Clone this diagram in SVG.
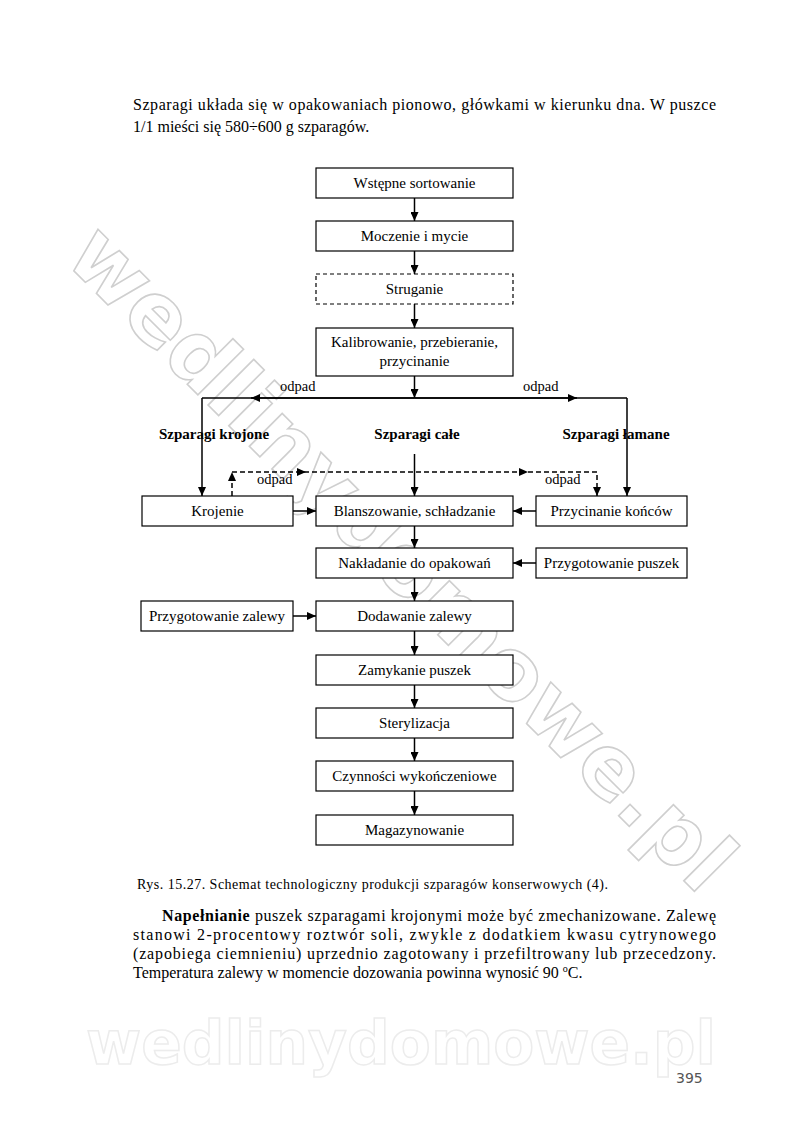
<svg xmlns="http://www.w3.org/2000/svg" width="800" height="1132" viewBox="0 0 800 1132">
<style>
.box{fill:#fff;stroke:#000;stroke-width:1.2}
.dbox{fill:#fff;stroke:#000;stroke-width:1.2;stroke-dasharray:4,3}
.t{font-family:"Liberation Serif","Times New Roman",serif;font-size:15px;fill:#000;text-anchor:middle}
.b{font-family:"Liberation Serif","Times New Roman",serif;font-size:15px;font-weight:bold;fill:#000;text-anchor:middle}
.o{font-family:"Liberation Serif","Times New Roman",serif;font-size:14.5px;fill:#000}
.p{font-family:"Liberation Serif","Times New Roman",serif;font-size:16px;fill:#000}
.cap{font-family:"Liberation Serif","Times New Roman",serif;font-size:14px;fill:#000}
.ln{fill:none;stroke:#000;stroke-width:1.5}
.dl{fill:none;stroke:#000;stroke-width:1.5;stroke-dasharray:5,3}
.wm{font-family:"DejaVu Sans",Verdana,sans-serif;font-weight:bold}
</style>
<defs>
<marker id="ah" markerWidth="9" markerHeight="8" refX="9" refY="4" orient="auto" markerUnits="userSpaceOnUse">
<path d="M0,0 L9,4 L0,8 z" fill="#000"/>
</marker>
</defs>
<rect width="800" height="1132" fill="#fff"/>
<g id="watermark">
<text class="wm" font-size="85" transform="translate(63,260) rotate(45)" textLength="900" lengthAdjust="spacingAndGlyphs" fill="none" stroke="#cfcfcf" stroke-width="1.6">wedlinydomowe.pl</text>
<text class="wm" font-size="60" x="86" y="1064" textLength="630" lengthAdjust="spacingAndGlyphs" fill="#fff" stroke="#ececec" stroke-width="1.5">wedlinydomowe.pl</text>
</g>
<g id="page-text">
<text class="p" x="133" y="110" textLength="583" lengthAdjust="spacing">Szparagi układa się w opakowaniach pionowo, główkami w kierunku dna. W puszce</text>
<text class="p" x="133" y="132">1/1 mieści się 580÷600 g szparagów.</text>
<text class="cap" x="137" y="889" textLength="471" lengthAdjust="spacing">Rys. 15.27. Schemat technologiczny produkcji szparagów konserwowych (4).</text>
<text class="p" x="162" y="921" textLength="554" lengthAdjust="spacing"><tspan font-weight="bold">Napełnianie</tspan> puszek szparagami krojonymi może być zmechanizowane. Zalewę</text>
<text class="p" x="133" y="940" textLength="583" lengthAdjust="spacing">stanowi 2-procentowy roztwór soli, zwykle z dodatkiem kwasu cytrynowego</text>
<text class="p" x="133" y="959" textLength="583" lengthAdjust="spacing">(zapobiega ciemnieniu) uprzednio zagotowany i przefiltrowany lub przecedzony.</text>
<text class="p" x="133" y="978">Temperatura zalewy w momencie dozowania powinna wynosić 90 <tspan font-size="10" dy="-6">o</tspan><tspan dy="6">C.</tspan></text>
<text x="676" y="1083" font-family="DejaVu Sans,sans-serif" font-size="14" fill="#555">395</text>
</g>
<g id="connectors">
<path class="ln" d="M414.5,198 V221" marker-end="url(#ah)"/>
<path class="ln" d="M414.5,251 V274" marker-end="url(#ah)"/>
<path class="ln" d="M414.5,304 V328" marker-end="url(#ah)"/>
<path class="ln" d="M414.5,376 V398" marker-end="url(#ah)"/>
<path class="ln" d="M202,398 H627"/>
<path class="ln" d="M414.5,398 H251" marker-end="url(#ah)"/>
<path class="ln" d="M414.5,398 H577" marker-end="url(#ah)"/>
<path class="ln" d="M202,398 V496" marker-end="url(#ah)"/>
<path class="ln" d="M627,398 V496" marker-end="url(#ah)"/>
<path class="ln" d="M414.5,454 V496" marker-end="url(#ah)"/>
<path class="dl" d="M232,496 V472" marker-end="url(#ah)"/>
<path class="dl" d="M232,472 H597 V496"/>
<path class="ln" d="M280,472 H306" stroke-opacity="0" marker-end="url(#ah)"/>
<path class="ln" d="M500,472 H528" stroke-opacity="0" marker-end="url(#ah)"/>
<path class="ln" d="M597,480 V496" stroke-opacity="0" marker-end="url(#ah)"/>
<path class="ln" d="M293,511 H316" marker-end="url(#ah)"/>
<path class="ln" d="M536,511 H513" marker-end="url(#ah)"/>
<path class="ln" d="M414.5,526 V548" marker-end="url(#ah)"/>
<path class="ln" d="M536,563 H513" marker-end="url(#ah)"/>
<path class="ln" d="M414.5,578 V601" marker-end="url(#ah)"/>
<path class="ln" d="M293,616 H316" marker-end="url(#ah)"/>
<path class="ln" d="M414.5,631 V655" marker-end="url(#ah)"/>
<path class="ln" d="M414.5,685 V708" marker-end="url(#ah)"/>
<path class="ln" d="M414.5,738 V761" marker-end="url(#ah)"/>
<path class="ln" d="M414.5,791 V815" marker-end="url(#ah)"/>
<text class="o" x="280" y="391">odpad</text>
<text class="o" x="523" y="391">odpad</text>
<text class="o" x="257" y="484">odpad</text>
<text class="o" x="545" y="484">odpad</text>
<text class="b" x="214" y="439">Szparagi krojone</text>
<text class="b" x="417" y="439">Szparagi całe</text>
<text class="b" x="616" y="439">Szparagi łamane</text>
</g>
<g id="n1"><rect class="box" x="316" y="168" width="197" height="30"/><text class="t" x="414.5" y="188">Wstępne sortowanie</text></g>
<g id="n2"><rect class="box" x="316" y="221" width="197" height="30"/><text class="t" x="414.5" y="241">Moczenie i mycie</text></g>
<g id="n3"><rect class="dbox" x="316" y="274" width="197" height="30"/><text class="t" x="414.5" y="294">Struganie</text></g>
<g id="n4"><rect class="box" x="316" y="328" width="197" height="48"/><text class="t" x="414.5" y="347">Kalibrowanie, przebieranie,</text><text class="t" x="414.5" y="366">przycinanie</text></g>
<g id="n5"><rect class="box" x="142" y="496" width="151" height="30"/><text class="t" x="217.5" y="516">Krojenie</text></g>
<g id="n6"><rect class="box" x="316" y="496" width="197" height="30"/><text class="t" x="414.5" y="516">Blanszowanie, schładzanie</text></g>
<g id="n7"><rect class="box" x="536" y="496" width="151" height="30"/><text class="t" x="611.5" y="516">Przycinanie końców</text></g>
<g id="n8"><rect class="box" x="316" y="548" width="197" height="30"/><text class="t" x="414.5" y="568">Nakładanie do opakowań</text></g>
<g id="n9"><rect class="box" x="536" y="548" width="151" height="30"/><text class="t" x="611.5" y="568">Przygotowanie puszek</text></g>
<g id="n10"><rect class="box" x="141" y="601" width="152" height="30"/><text class="t" x="217" y="621">Przygotowanie zalewy</text></g>
<g id="n11"><rect class="box" x="316" y="601" width="197" height="30"/><text class="t" x="414.5" y="621">Dodawanie zalewy</text></g>
<g id="n12"><rect class="box" x="316" y="655" width="197" height="30"/><text class="t" x="414.5" y="675">Zamykanie puszek</text></g>
<g id="n13"><rect class="box" x="316" y="708" width="197" height="30"/><text class="t" x="414.5" y="728">Sterylizacja</text></g>
<g id="n14"><rect class="box" x="316" y="761" width="197" height="30"/><text class="t" x="414.5" y="781">Czynności wykończeniowe</text></g>
<g id="n15"><rect class="box" x="316" y="815" width="197" height="30"/><text class="t" x="414.5" y="835">Magazynowanie</text></g>
</svg>
